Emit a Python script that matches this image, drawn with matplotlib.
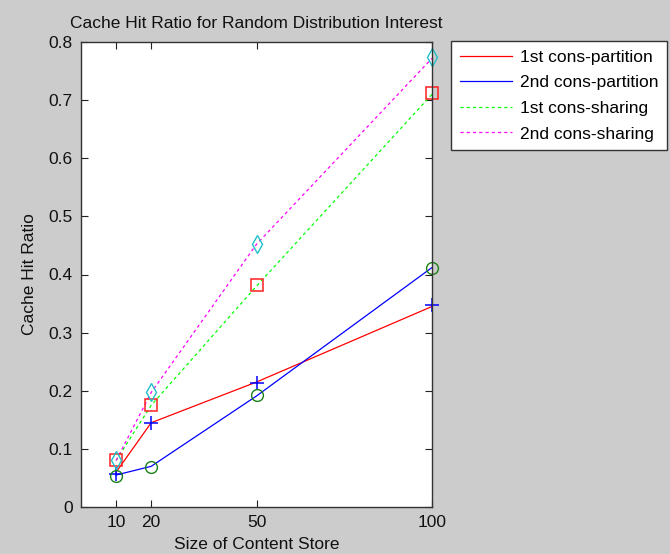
"""
Cache hit ratio vs. content store size (MATLAB-style figure).
"""

import matplotlib
matplotlib.use("Agg")
import matplotlib.pyplot as plt

plt.rcParams["font.family"] = ["Liberation Sans", "DejaVu Sans"]

# Dados
store_size = [10, 20, 50, 100]

# linhas
first_partition = [0.060, 0.145, 0.215, 0.345]
second_partition = [0.055, 0.070, 0.191, 0.412]
first_sharing = [0.080, 0.175, 0.380, 0.710]
second_sharing = [0.080, 0.197, 0.452, 0.772]

# marcadores (desenhados à parte, como no original)
plus_marks = [0.057, 0.144, 0.214, 0.347]
circle_marks = [0.054, 0.069, 0.192, 0.412]
square_marks = [0.081, 0.175, 0.382, 0.712]
diamond_marks = [0.081, 0.197, 0.452, 0.774]

y_ticks = [0, 0.1, 0.2, 0.3, 0.4, 0.5, 0.6, 0.7, 0.8]

fig = plt.figure(figsize=(6.70, 5.54), dpi=100)
fig.patch.set_facecolor("#cccccc")
ax = fig.add_axes([81 / 670, 47 / 554, 351 / 670, 465 / 554])
ax.set_facecolor("white")

dash = (0, (2.5, 2.5))
l1, = ax.plot(store_size, first_partition, color="#ff0000", linewidth=0.9, label="1st cons-partition")
l2, = ax.plot(store_size, second_partition, color="#0000ff", linewidth=0.9, label="2nd cons-partition")
l3, = ax.plot(store_size, first_sharing, color="#00ff00", linewidth=0.9, linestyle=dash, label="1st cons-sharing")
l4, = ax.plot(store_size, second_sharing, color="#ff00ff", linewidth=0.9, linestyle=dash, label="2nd cons-sharing")

ax.plot(store_size, plus_marks, linestyle="none", marker="+", markersize=10,
        markeredgewidth=1.1, color="#0000ff", clip_on=False)
ax.plot(store_size, circle_marks, linestyle="none", marker="o", markersize=8.5,
        markeredgewidth=1.0, markerfacecolor="none", markeredgecolor="#1a801a", clip_on=False)
ax.plot(store_size, square_marks, linestyle="none", marker="s", markersize=9,
        markeredgewidth=1.1, markerfacecolor="none", markeredgecolor="#ff2020", clip_on=False)
ax.plot(store_size, diamond_marks, linestyle="none", marker="d", markersize=9,
        markeredgewidth=1.0, markerfacecolor="none", markeredgecolor="#20c0c8", clip_on=False)

# Eixos
ax.set_xlim(0, 100)
ax.set_ylim(0, 0.8)
ax.set_xticks(store_size)
ax.set_yticks(y_ticks)
ax.set_yticklabels(["0", "0.1", "0.2", "0.3", "0.4", "0.5", "0.6", "0.7", "0.8"])
ax.tick_params(direction="in", length=5, width=0.8, top=True, right=True,
               labelsize=12.5, pad=6, colors="#222222", labelcolor="#111111")
for spine in ax.spines.values():
    spine.set_linewidth(1.0)
    spine.set_color("#333333")

ax.set_title("Cache Hit Ratio for Random Distribution Interest", fontsize=12.5, pad=10, color="#111111")
ax.set_xlabel("Size of Content Store", fontsize=12.5, labelpad=5, color="#111111")
ax.set_ylabel("Cache Hit Ratio", fontsize=12.5, labelpad=8, color="#111111")

leg = fig.legend(handles=[l1, l2, l3, l4], loc="upper left",
                 bbox_to_anchor=(451 / 670, 1 - 41 / 554), borderaxespad=0,
                 fontsize=12.5, handlelength=3.0, handletextpad=0.45,
                 labelspacing=0.6, borderpad=0.5, fancybox=False,
                 framealpha=1, edgecolor="#333333")
leg.get_frame().set_linewidth(1.0)

plt.savefig("out.png", dpi=100, facecolor=fig.get_facecolor())
